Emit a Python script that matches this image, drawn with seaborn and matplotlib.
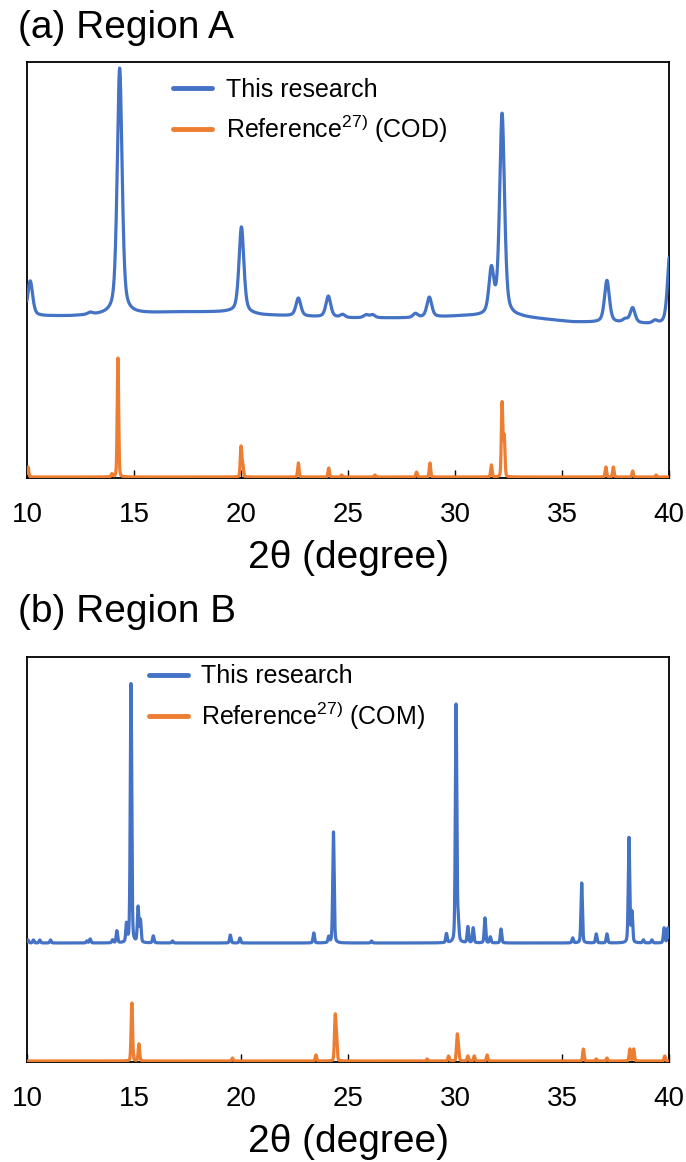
import numpy as np
import pandas as pd
import matplotlib
matplotlib.use("Agg")
import matplotlib.pyplot as plt
import seaborn as sns

# ---------------------------------------------------------------
# Diffraction data (2θ in degrees, intensities in arbitrary units)
# ---------------------------------------------------------------
two_theta_range = (10.0, 40.0)
tick_values = [10, 15, 20, 25, 30, 35, 40]

# Region A - measured pattern
a_meas_pos = [10.15, 12.95, 14.33, 20.02, 22.68, 24.08, 24.75, 25.85, 26.15,
              28.15, 28.80, 31.70, 32.20, 37.10, 37.95, 38.30, 39.35, 40.05]
a_meas_height = [35, 2, 246, 86, 18, 21, 3, 3, 3,
                 4, 20, 44, 202, 42, 3, 15, 3, 75]
a_meas_fwhm = 0.27
a_bg_pos = [10.0, 12.0, 17.0, 19.5, 21.0, 25.0, 28.0, 30.5, 33.0, 35.5, 38.0, 40.0]
a_bg_level = [162, 162, 166, 166, 163, 160, 160, 162, 161, 156, 155, 153]

# Region A - reference pattern (COD)
a_ref_pos = [10.05, 13.97, 14.25, 20.00, 20.08, 22.68, 24.10, 24.70, 26.26,
             28.20, 28.83, 31.70, 32.20, 32.30, 37.05, 37.40, 38.30, 39.40]
a_ref_height = [10, 3, 119, 30, 12, 14, 9, 2, 2,
                5, 14, 12, 74, 40, 10, 10, 6, 2]
a_ref_fwhm = 0.08
a_ref_base = 1.0

# Region B - measured pattern
b_meas_pos = [10.05, 10.30, 10.60, 11.10, 12.80, 12.95, 14.00, 14.20, 14.65,
              14.86, 15.19, 15.30, 15.90, 16.80, 19.50, 19.95, 23.40, 24.10,
              24.32, 26.10, 29.60, 30.05, 30.15, 30.60, 30.85, 31.40, 31.65,
              32.15, 35.50, 35.92, 36.60, 37.10, 38.13, 38.27, 38.80, 39.20,
              39.77, 39.95]
b_meas_height = [3, 3, 3, 3, 2, 4, 3, 12, 18,
                 259, 35, 22, 7, 2, 8, 5, 10, 6,
                 111, 2, 9, 238, 18, 16, 15, 25, 6,
                 14, 5, 60, 9, 9, 105, 30, 3, 3,
                 15, 15]
b_meas_fwhm = 0.08
b_meas_base = 119.0

# Region B - reference pattern (COM)
b_ref_pos = [14.90, 15.23, 19.60, 23.50, 24.40, 24.46, 28.70, 29.70, 30.10,
             30.16, 30.60, 30.90, 31.50, 36.00, 36.60, 37.10, 38.17, 38.35, 39.80]
b_ref_height = [58, 17, 3, 6, 42, 20, 2, 5, 24,
                12, 5, 5, 6, 12, 2, 3, 12, 12, 5]
b_ref_fwhm = 0.08
b_ref_base = 1.0

series_names_a = ["This research", "Reference$^{\\mathregular{27)}}$ (COD)"]
series_names_b = ["This research", "Reference$^{\\mathregular{27)}}$ (COM)"]
palette = ["#4472C4", "#ED7D31"]


def profile(x, positions, heights, fwhm, eta=0.4):
    """Sum of pseudo-Voigt peaks."""
    y = np.zeros_like(x)
    for p, h in zip(positions, heights):
        d = (x - p) / fwhm
        g = np.exp(-4.0 * np.log(2.0) * d ** 2)
        lor = 1.0 / (1.0 + 4.0 * d ** 2)
        y += h * (eta * lor + (1.0 - eta) * g)
    return y


x = np.linspace(two_theta_range[0], two_theta_range[1], 6001)

a_meas = np.interp(x, a_bg_pos, a_bg_level) + profile(x, a_meas_pos, a_meas_height, a_meas_fwhm, 0.5)
a_ref = a_ref_base + profile(x, a_ref_pos, a_ref_height, a_ref_fwhm, 0.2)
b_meas = b_meas_base + profile(x, b_meas_pos, b_meas_height, b_meas_fwhm, 0.3)
b_ref = b_ref_base + profile(x, b_ref_pos, b_ref_height, b_ref_fwhm, 0.2)

df_a = pd.concat([
    pd.DataFrame({"two_theta": x, "intensity": a_meas, "series": series_names_a[0]}),
    pd.DataFrame({"two_theta": x, "intensity": a_ref, "series": series_names_a[1]}),
])
df_b = pd.concat([
    pd.DataFrame({"two_theta": x, "intensity": b_meas, "series": series_names_b[0]}),
    pd.DataFrame({"two_theta": x, "intensity": b_ref, "series": series_names_b[1]}),
])

# ---------------------------------------------------------------
# Figure
# ---------------------------------------------------------------
sns.set_theme(style="white")
plt.rcParams["font.family"] = ["Liberation Sans", "DejaVu Sans"]
plt.rcParams["mathtext.default"] = "regular"
plt.rcParams["text.color"] = "black"
plt.rcParams["axes.labelcolor"] = "black"
plt.rcParams["xtick.color"] = "black"
plt.rcParams["xtick.labelcolor"] = "black"

W, H = 686, 1162
fig = plt.figure(figsize=(W / 100, H / 100), dpi=100)


def px_axes(left, top, right, bottom):
    return fig.add_axes([left / W, 1 - bottom / H, (right - left) / W, (bottom - top) / H])


ax_a = px_axes(27, 62, 669, 478)
ax_b = px_axes(27, 657, 669, 1062)

panels = [
    (ax_a, df_a, series_names_a, 416, "(a) Region A", 28, (0.228, 0.962)),
    (ax_b, df_b, series_names_b, 405, "(b) Region B", 612, (0.190, 0.982)),
]

for ax, df, names, ymax, title, title_y, leg_anchor in panels:
    sns.lineplot(data=df, x="two_theta", y="intensity", hue="series",
                 hue_order=names, palette=palette, estimator=None, sort=False,
                 linewidth=2.3, ax=ax, zorder=3)
    ax.set_xlim(*two_theta_range)
    ax.set_ylim(0, ymax)
    ax.set_xticks(tick_values)
    ax.set_xticklabels([str(t) for t in tick_values])
    ax.set_yticks([])
    ax.set_ylabel("")
    ax.set_xlabel("2θ (degree)", fontsize=28, labelpad=9, color="black")
    ax.tick_params(axis="x", direction="in", length=6, width=1.0, color="black",
                   labelsize=20, pad=17, bottom=True, top=False,
                   labelcolor="black")
    for sp in ax.spines.values():
        sp.set_visible(True)
        sp.set_color("black")
        sp.set_linewidth(1.3)
    leg = ax.legend(loc="upper left", bbox_to_anchor=leg_anchor, frameon=False,
                    fontsize=18, handlelength=1.55, handletextpad=0.55,
                    labelspacing=0.45, borderpad=0, borderaxespad=0)
    for txt in leg.get_texts():
        txt.set_color("black")
    for line in leg.get_lines():
        line.set_linewidth(3.5)
    fig.text(18 / W, 1 - title_y / H, title, fontsize=28, ha="left", va="center",
             color="black")

fig.savefig("out.png", dpi=100)
